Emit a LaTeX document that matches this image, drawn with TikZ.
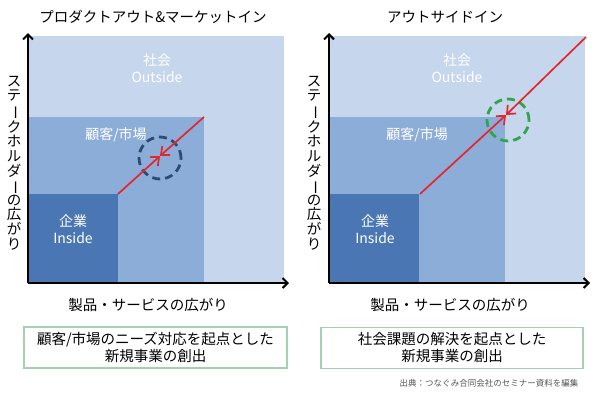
\documentclass[tikz,border=0pt]{standalone}
\usepackage{fontspec}
\usepackage{graphicx}
\newfontfamily\jp{Noto Sans CJK JP}
\usetikzlibrary{arrows.meta}
\definecolor{reglight}{HTML}{C6D6EC}
\definecolor{regmid}{HTML}{8DADD9}
\definecolor{regdark}{HTML}{4A77B3}
\definecolor{redline}{HTML}{E3262C}
\definecolor{navyring}{HTML}{2E4C72}
\definecolor{greenring}{HTML}{2FA64C}
\definecolor{boxgreen}{HTML}{A3D1B2}
\definecolor{notegray}{HTML}{555555}
\tikzset{
  txt/.style={font=\jp\fontsize{14.5}{17}\selectfont, inner sep=0pt},
  intxt/.style={font=\jp\fontsize{14}{17}\selectfont, text=white, inner sep=0pt, align=center},
  axisline/.style={line width=2.3pt, -{Straight Barb[length=5pt,width=10pt,line width=2pt]}},
  redarrow/.style={draw=redline, line width=1.7pt, -{Straight Barb[length=7pt,width=12pt,line width=1.7pt]}},
  ring/.style={circle, draw, dash pattern=on 8pt off 5pt, line width=2.8pt, minimum size=42pt, inner sep=0pt},
  notebox/.style={draw=boxgreen, line width=1.4pt, txt, align=center, minimum height=41pt, minimum width=263pt},
}
\newcommand{\vlabel}{ス\\テ\\\rotatebox[origin=c]{-90}{ー}\\ク\\ホ\\ル\\ダ\\\rotatebox[origin=c]{-90}{ー}\\の\\広\\が\\り}
\begin{document}
\begin{tikzpicture}[x=1pt,y=-1pt]
\useasboundingbox (0,0) rectangle (596,394);
\fill[white] (0,0) rectangle (596,394);

% ---------- left panel ----------
\node[txt] (t1) at (153,17) {プロダクトアウト\&マーケットイン};
\fill[reglight] (28,36) rectangle (284,283);
\fill[regmid] (28,117) rectangle (204,283);
\fill[regdark] (28,194) rectangle (118,283);
\node[intxt] (out1) at (157,68) {社会\\Outside};
\node[intxt] (cust1) at (116,135) {顧客/市場};
\node[intxt] (in1) at (73,229) {企業\\Inside};
\coordinate (o1) at (28,283);
\coordinate (ytop1) at (28,33);
\coordinate (xend1) at (289,283);
\draw[axisline] (o1) -- (ytop1);
\draw[axisline] (o1) -- (xend1);
\coordinate (ra1) at (118,194);
\coordinate (rb1) at (204,117);
\coordinate (m1) at (160,156);
\node[ring, draw=navyring] (c1) at (160,158) {};
\draw[redarrow] (ra1) -- (m1);
\draw[redarrow] (rb1) -- (m1);
\node[font=\jp\fontsize{14.5}{14.6}\selectfont, align=center, inner sep=0pt] (yl1) at (14,163) {\vlabel};
\node[txt] (xl1) at (148,305) {製品・サービスの広がり};
\node[notebox] (b1) at (155.5,347.5) {顧客/市場のニーズ対応を起点とした\\新規事業の創出};

% ---------- right panel ----------
\node[txt] (t2) at (445,17) {アウトサイドイン};
\fill[reglight] (329,36) rectangle (585,283);
\fill[regmid] (329,117) rectangle (505,283);
\fill[regdark] (329,194) rectangle (419,283);
\node[intxt] (out2) at (457,68) {社会\\Outside};
\node[intxt] (cust2) at (417,135) {顧客/市場};
\node[intxt] (in2) at (375,229) {企業\\Inside};
\coordinate (o2) at (329,283);
\coordinate (ytop2) at (329,33);
\coordinate (xend2) at (590,283);
\draw[axisline] (o2) -- (ytop2);
\draw[axisline] (o2) -- (xend2);
\coordinate (ra2) at (420,194);
\coordinate (rb2) at (586,37);
\coordinate (m2) at (506,115);
\node[ring, draw=greenring] (c2) at (508,120) {};
\draw[redarrow] (ra2) -- (m2);
\draw[redarrow] (rb2) -- (m2);
\node[font=\jp\fontsize{14.5}{14.6}\selectfont, align=center, inner sep=0pt] (yl2) at (314,163) {\vlabel};
\node[txt] (xl2) at (450,305) {製品・サービスの広がり};
\node[notebox, minimum width=262pt] (b2) at (452,348) {社会課題の解決を起点とした\\新規事業の創出};

\node[font=\jp\fontsize{8.5}{10}\selectfont, text=notegray, inner sep=0pt] (src) at (489,383) {出典：つなぐみ合同会社のセミナー資料を編集};
\end{tikzpicture}
\end{document}
